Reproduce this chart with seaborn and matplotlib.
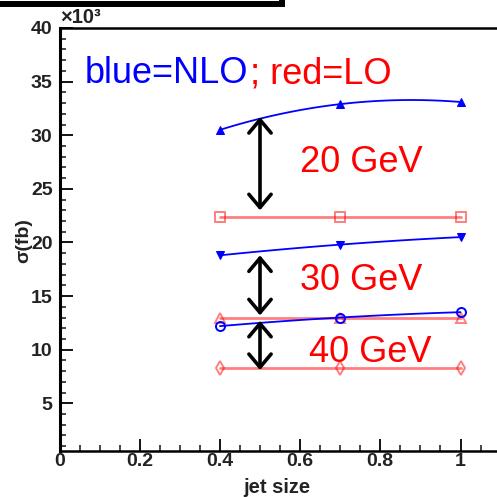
import matplotlib
matplotlib.use("Agg")
import matplotlib.pyplot as plt
from matplotlib.patches import Rectangle
from matplotlib.ticker import MultipleLocator, FuncFormatter
import seaborn as sns

# data (sigma in units of 10^3 fb)
jet_size = [0.4, 0.7, 1.0]
nlo_20 = [30.5, 32.9, 33.1]
lo_20 = [22.4, 22.4, 22.4]
nlo_30 = [18.8, 19.8, 20.5]
lo_30 = [13.0, 13.0, 13.0]
nlo_40 = [12.2, 13.0, 13.5]
lo_40 = [8.3, 8.3, 8.3]

# double arrows between NLO and LO at jet size 0.5
arrow_x = 0.5
arrow_top = [31.7, 18.8, 12.7]
arrow_bottom = [23.0, 13.2, 8.1]

gev_labels = ["20 GeV", "30 GeV", "40 GeV"]
gev_x = [0.60, 0.60, 0.623]
gev_y = [26.6, 15.55, 8.85]

sns.set_theme(style="ticks")
plt.rcParams["font.family"] = ["Liberation Sans", "DejaVu Sans"]

W = 497.0
fig = plt.figure(figsize=(4.97, 4.97), dpi=100)
ax = fig.add_axes([59.5 / W, (W - 450.5) / W, (W - 59.5) / W, (450.5 - 28) / W])

# LO curves (red, open markers, light)
red_kw = dict(color="red", alpha=0.5, lw=2.0, markerfacecolor="none",
              markeredgecolor="red", markeredgewidth=1.4, ax=ax)
sns.lineplot(x=jet_size, y=lo_20, marker="s", markersize=6.5, **red_kw)
sns.lineplot(x=jet_size, y=lo_30, marker="^", markersize=7, **red_kw)
sns.lineplot(x=jet_size, y=lo_40, marker="d", markersize=7, **red_kw)

# NLO curves (blue, smooth through the three points)
for ys in (nlo_20, nlo_30, nlo_40):
    sns.regplot(x=jet_size, y=ys, order=2, ci=None, scatter=False,
                color="blue", line_kws=dict(lw=1.3), ax=ax)
sns.lineplot(x=jet_size, y=nlo_20, marker="^", markersize=6, linestyle="",
             color="blue", markeredgecolor="blue", ax=ax)
sns.lineplot(x=jet_size, y=nlo_30, marker="v", markersize=6, linestyle="",
             color="blue", markeredgecolor="blue", ax=ax)
sns.lineplot(x=jet_size, y=nlo_40, marker="o", markersize=6.5, linestyle="",
             color="blue", markerfacecolor="none", markeredgecolor="blue",
             markeredgewidth=1.4, ax=ax)

for top, bot in zip(arrow_top, arrow_bottom):
    ax.annotate("", xy=(arrow_x, top), xytext=(arrow_x, bot),
                arrowprops=dict(arrowstyle="<->,head_length=0.95,head_width=0.8",
                                lw=2.6, color="black", shrinkA=0, shrinkB=0,
                                mutation_scale=10))

for lab, gx, gy in zip(gev_labels, gev_x, gev_y):
    ax.text(gx, gy, lab, color="red", fontsize=26, ha="left", va="baseline")

ax.text(0.062, 34.85, "blue=NLO", color="blue", fontsize=26, ha="left", va="baseline")
ax.text(0.474, 34.85, "; red=LO", color="red", fontsize=26, ha="left", va="baseline")

ax.set_xlim(0, (W - 59.5) / 401.0)
ax.set_ylim(0.6, 40)
ax.xaxis.set_major_locator(MultipleLocator(0.2))
ax.xaxis.set_minor_locator(MultipleLocator(0.05))
ax.yaxis.set_major_locator(MultipleLocator(5))
ax.yaxis.set_minor_locator(MultipleLocator(1))
ax.xaxis.set_major_formatter(FuncFormatter(lambda v, p: "%g" % round(v, 2)))
ax.yaxis.set_major_formatter(FuncFormatter(lambda v, p: "%g" % v))

ax.tick_params(which="major", direction="in", length=9, width=1.3, colors="black",
               labelsize=14, top=False, right=False)
ax.tick_params(which="minor", direction="in", length=4.5, width=1.2,
               top=False, right=False)
ax.tick_params(axis="y", pad=5)
ax.tick_params(axis="x", pad=2)
for lab in ax.get_xticklabels() + ax.get_yticklabels():
    lab.set_fontweight("bold")
    lab.set_color("#222222")

for side in ("left", "top", "bottom"):
    ax.spines[side].set_linewidth(1.8)
    ax.spines[side].set_color("black")
    ax.spines[side].set_visible(True)
ax.spines["left"].set_linewidth(2.2)
ax.spines["right"].set_visible(False)

ax.set_xlabel("jet size", fontsize=14.5, fontweight="bold", color="#222222")
ax.xaxis.set_label_coords(0.497, -0.065)
ax.set_ylabel("σ(fb)", fontsize=14, fontweight="bold", color="#222222")
ax.yaxis.set_label_coords(-0.062, 0.498)

fig.text(60 / W, 1 - 23 / W, "×10³", fontsize=14.5, fontweight="bold",
         color="#222222", ha="left", va="baseline")

# frame of the box above the plot, cut by the image edge
fig.add_artist(Rectangle((-0.05, 1 - 4 / W), 282 / W + 0.05, 0.1,
                         transform=fig.transFigure, fill=False,
                         edgecolor="black", lw=4.3, clip_on=False, zorder=5))

fig.savefig("out.png", dpi=100)
